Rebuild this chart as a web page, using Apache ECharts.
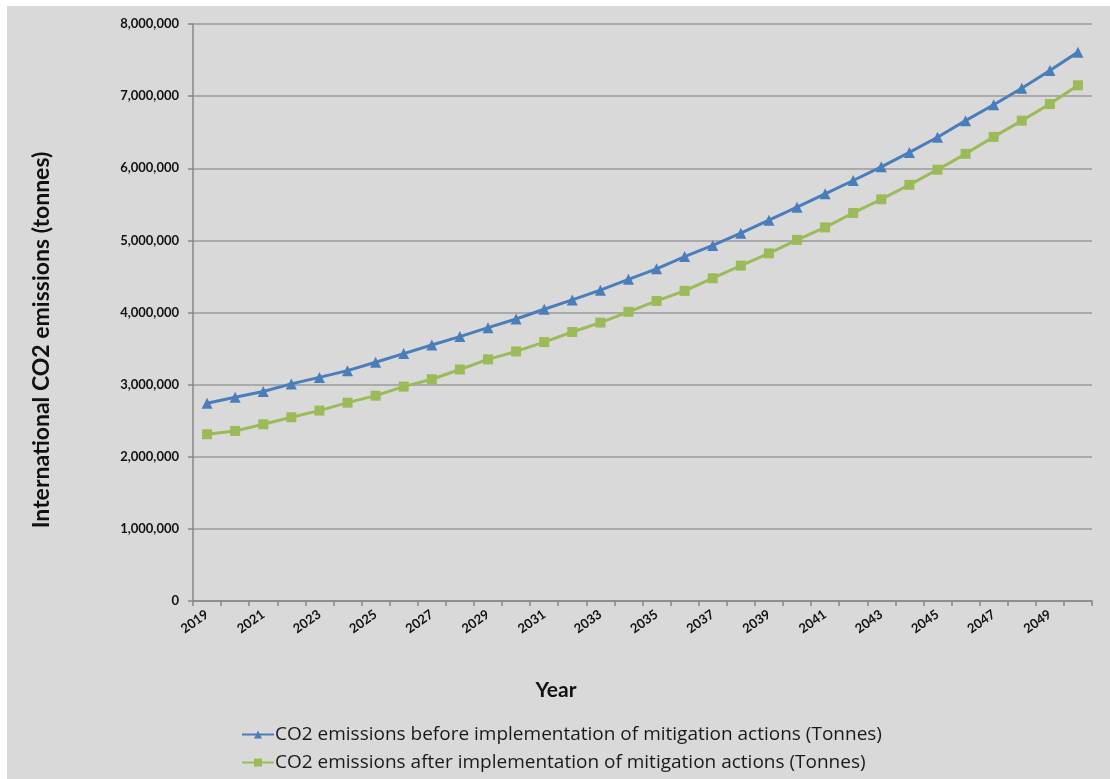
<!DOCTYPE html>
<html>
<head>
<meta charset="utf-8">
<script src="https://cdn.jsdelivr.net/npm/echarts@6/dist/echarts.min.js"></script>
<style>
  html, body { margin: 0; padding: 0; background: #ffffff; }
  #frame { position: relative; width: 1110px; height: 779px; background: #ffffff; overflow: hidden; }
  #chart { position: absolute; left: 7px; top: 6px; width: 1103px; height: 773px; }
</style>
</head>
<body>
<div id="frame"><div id="chart"></div></div>
<script>
// Years on the category axis
const years = [
  '2019','2020','2021','2022','2023','2024','2025','2026','2027','2028','2029','2030',
  '2031','2032','2033','2034','2035','2036','2037','2038','2039','2040','2041','2042',
  '2043','2044','2045','2046','2047','2048','2049','2050'
];

// International CO2 emissions (tonnes) before mitigation actions
const beforeMitigation = [
  2742000, 2825000, 2905000, 3010000, 3100000, 3194000, 3310000, 3430000,
  3550000, 3666000, 3790000, 3910000, 4045000, 4175000, 4310000, 4460000,
  4605000, 4775000, 4930000, 5100000, 5280000, 5460000, 5645000, 5830000,
  6020000, 6220000, 6430000, 6660000, 6880000, 7110000, 7355000, 7610000
];

// International CO2 emissions (tonnes) after mitigation actions
const afterMitigation = [
  2312000, 2358000, 2450000, 2547000, 2640000, 2750000, 2847000, 2972000,
  3075000, 3210000, 3350000, 3460000, 3590000, 3730000, 3860000, 4010000,
  4160000, 4300000, 4475000, 4650000, 4820000, 5007000, 5180000, 5380000,
  5570000, 5770000, 5980000, 6200000, 6435000, 6660000, 6890000, 7150000
];

// Value axis range
const yMin = 0;
const yMax = 8000000;
const yStep = 1000000;

const seriesNames = [
  'CO2 emissions before implementation of mitigation actions (Tonnes)',
  'CO2 emissions after implementation of mitigation actions (Tonnes)'
];
const yAxisTitle = 'International CO2 emissions (tonnes)';
const xAxisTitle = 'Year';

const FONT = 'Lato, "Open Sans", sans-serif';
const LEGEND_FONT = '"Open Sans", Lato, sans-serif';
const BLUE = '#4a7ebb';
const GREEN = '#9bbb59';

const chart = echarts.init(document.getElementById('chart'), null, { renderer: 'canvas' });

chart.setOption({
  backgroundColor: '#d9d9d9',
  animation: false,
  textStyle: { fontFamily: FONT },
  grid: { left: 186, right: 18, top: 18, bottom: 178, containLabel: false },
  legend: {
    orient: 'vertical',
    left: 229,
    top: 714,
    itemWidth: 32,
    itemHeight: 10,
    itemGap: 9,
    textStyle: { fontFamily: LEGEND_FONT, fontSize: 19, color: '#1a1a1a', padding: [0, 0, 0, -4] },
    data: seriesNames
  },
  xAxis: {
    type: 'category',
    data: years,
    boundaryGap: true,
    axisLine: { lineStyle: { color: '#868686', width: 1.5 } },
    axisTick: { show: true, interval: 0, length: 5, lineStyle: { color: '#868686', width: 1.5 } },
    axisLabel: {
      interval: 1,
      rotate: 35,
      margin: 12,
      fontFamily: FONT,
      fontWeight: 'bold',
      fontSize: 13,
      color: '#111111'
    },
    splitLine: { show: false }
  },
  yAxis: {
    type: 'value',
    min: yMin,
    max: yMax,
    interval: yStep,
    axisLine: { show: true, lineStyle: { color: '#868686', width: 1.5 } },
    axisTick: { show: true, length: 5, lineStyle: { color: '#868686', width: 1.5 } },
    axisLabel: {
      margin: 14,
      fontFamily: FONT,
      fontWeight: 'bold',
      fontSize: 13,
      color: '#111111',
      formatter: v => v.toLocaleString('en-US')
    },
    splitLine: { lineStyle: { color: '#9a9a9a', width: 1.5 } }
  },
  graphic: [
    {
      type: 'text',
      rotation: Math.PI / 2,
      x: 35,
      y: 334,
      style: {
        text: yAxisTitle,
        font: 'bold 23px ' + FONT,
        fill: '#111111',
        align: 'center',
        verticalAlign: 'middle'
      }
    },
    {
      type: 'text',
      x: 549,
      y: 684,
      style: {
        text: xAxisTitle,
        font: 'bold 21px ' + FONT,
        fill: '#111111',
        align: 'center',
        verticalAlign: 'middle'
      }
    }
  ],
  series: [
    {
      name: seriesNames[0],
      type: 'line',
      data: beforeMitigation,
      symbol: 'triangle',
      symbolSize: 11,
      lineStyle: { color: BLUE, width: 3 },
      itemStyle: { color: BLUE },
      z: 3
    },
    {
      name: seriesNames[1],
      type: 'line',
      data: afterMitigation,
      symbol: 'rect',
      symbolSize: 10,
      lineStyle: { color: GREEN, width: 3 },
      itemStyle: { color: GREEN },
      z: 2
    }
  ]
});
</script>
</body>
</html>
